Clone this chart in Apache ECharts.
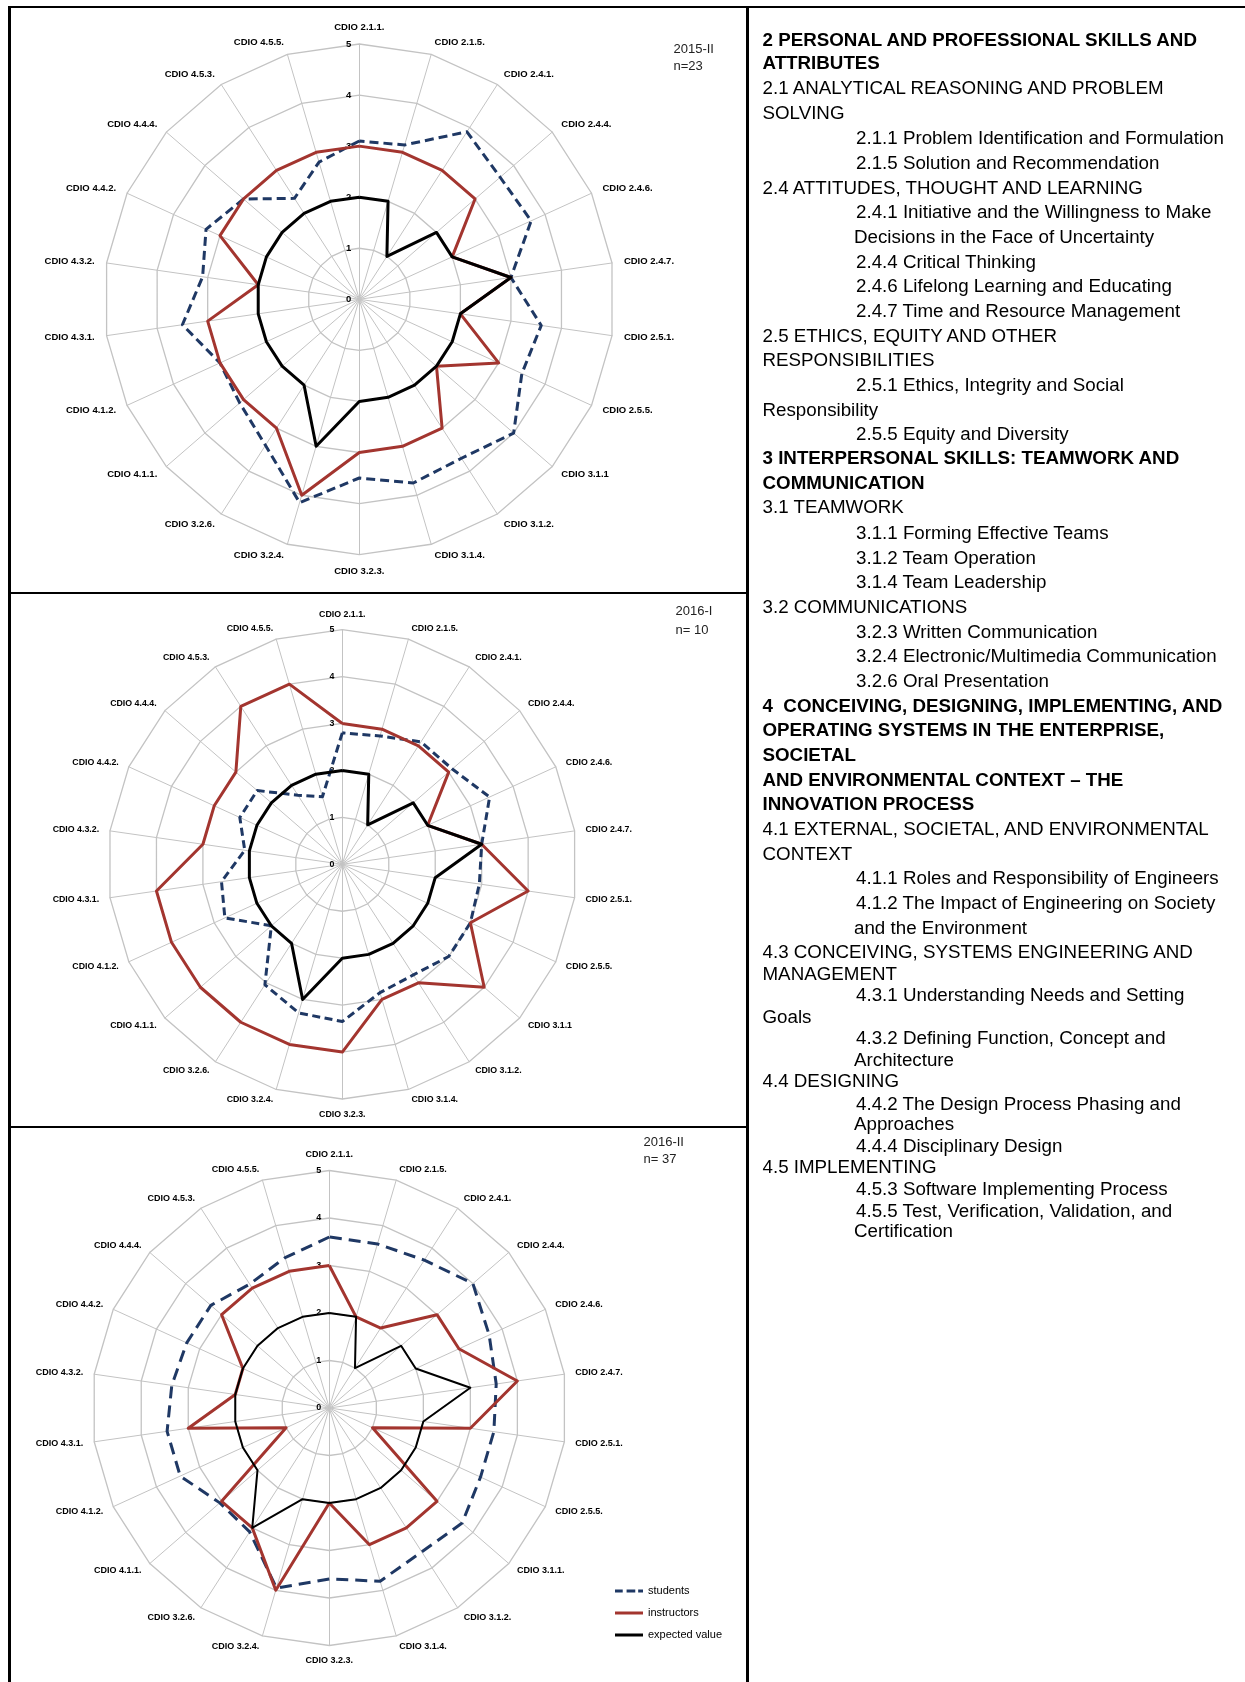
<!DOCTYPE html>
<html>
<head>
<meta charset="utf-8">
<title>CDIO skills radar</title>
<script src="https://cdn.jsdelivr.net/npm/echarts@6/dist/echarts.min.js"></script>
<style>
  html, body { margin: 0; padding: 0; background: #fff; }
  #page { position: relative; width: 1245px; height: 1682px; overflow: hidden; }
  #chart { position: absolute; left: 0; top: 0; width: 746px; height: 1682px; }
  .rule { position: absolute; background: #000; }
  #key { position: absolute; left: 0; top: 0; width: 1245px; height: 1682px;
         font-family: 'Liberation Sans', Arial, sans-serif; font-size: 18.75px; color: #000; }
  #key div { position: absolute; white-space: pre; line-height: 22px; height: 22px; }
  #key .b { font-weight: bold; }
</style>
</head>
<body>
<div id="page">
  <div id="chart"></div>
  <div class="rule" style="left:9px;top:6px;width:1236px;height:2px"></div>
  <div class="rule" style="left:8px;top:6px;width:3px;height:1676px"></div>
  <div class="rule" style="left:746px;top:6px;width:3px;height:1676px"></div>
  <div class="rule" style="left:8px;top:592px;width:740px;height:2px"></div>
  <div class="rule" style="left:8px;top:1126px;width:740px;height:2px"></div>
  <div id="key"></div>
</div>
<script>
// Competence items (CDIO syllabus), listed clockwise from the top
const categories = ['CDIO 2.1.1.', 'CDIO 2.1.5.', 'CDIO 2.4.1.', 'CDIO 2.4.4.', 'CDIO 2.4.6.', 'CDIO 2.4.7.',
  'CDIO 2.5.1.', 'CDIO 2.5.5.', 'CDIO 3.1.1', 'CDIO 3.1.2.', 'CDIO 3.1.4.', 'CDIO 3.2.3.', 'CDIO 3.2.4.',
  'CDIO 3.2.6.', 'CDIO 4.1.1.', 'CDIO 4.1.2.', 'CDIO 4.3.1.', 'CDIO 4.3.2.', 'CDIO 4.4.2.', 'CDIO 4.4.4.',
  'CDIO 4.5.3.', 'CDIO 4.5.5.'];
const categories2016II = ['CDIO 2.1.1.', 'CDIO 2.1.5.', 'CDIO 2.4.1.', 'CDIO 2.4.4.', 'CDIO 2.4.6.', 'CDIO 2.4.7.',
  'CDIO 2.5.1.', 'CDIO 2.5.5.', 'CDIO 3.1.1.', 'CDIO 3.1.2.', 'CDIO 3.1.4.', 'CDIO 3.2.3.', 'CDIO 3.2.4.',
  'CDIO 3.2.6.', 'CDIO 4.1.1.', 'CDIO 4.1.2.', 'CDIO 4.3.1.', 'CDIO 4.3.2.', 'CDIO 4.4.2.', 'CDIO 4.4.4.',
  'CDIO 4.5.3.', 'CDIO 4.5.5.'];

// Scale of the rating (0 .. 5)
const scaleTicks = ['0', '1', '2', '3', '4', '5'];
const seriesNames = ['students', 'instructors', 'expected value'];

// 2015-II, n=23
const students2015II    = [3.1, 3.15, 3.9, 3.65, 3.7, 3.0, 3.6, 3.5, 4.0, 3.7, 3.75, 3.5, 4.15, 3.4, 3.1, 3.0, 3.5, 3.1, 3.3, 3.0, 2.35, 2.8];
const instructors2015II = [3, 3, 3, 3, 2, 3, 2, 3, 2, 3, 3, 3, 4, 3, 3, 3, 3, 2, 3, 3, 3, 3];
const expected2015II    = [2, 2, 1, 2, 2, 3, 2, 2, 2, 2, 2, 2, 3, 2, 2, 2, 2, 2, 2, 2, 2, 2];

// 2016-I, n=10
const students2016I     = [2.8, 2.85, 3.1, 3.1, 3.45, 3.0, 2.95, 3.0, 3.0, 2.8, 2.85, 3.35, 3.3, 3.05, 2.0, 2.75, 2.6, 2.1, 2.4, 2.4, 1.75, 1.5];
const instructors2016I  = [3, 3, 3, 3, 2, 3, 4, 3, 4, 3, 3, 4, 4, 4, 4, 4, 4, 3, 3, 3, 4, 4];
const expected2016I     = [2, 2, 1, 2, 2, 3, 2, 2, 2, 2, 2, 2, 3, 2, 2, 2, 2, 2, 2, 2, 2, 2];

// 2016-II, n=37
const students2016II    = [3.6, 3.6, 3.7, 4.0, 3.7, 3.55, 3.5, 3.5, 3.7, 3.6, 3.8, 3.6, 3.95, 3.1, 3.05, 3.45, 3.45, 3.35, 3.3, 3.3, 3.1, 3.3];
const instructors2016II = [3, 2, 2, 3, 3, 4, 3, 1, 3, 3, 3, 2, 4, 3, 3, 1, 3, 2, 2, 3, 3, 3];
const expected2016II    = [2, 2, 1, 2, 2, 3, 2, 2, 2, 2, 2, 2, 2, 3, 2, 2, 2, 2, 2, 2, 2, 2];

// Panel layout and styling
const FONT = "'Liberation Sans', Arial, sans-serif";
const COLORS = { students: '#1f3864', instructors: '#a3352f', expected: '#000000' };
const panels = [
  { cats: categories, values: [students2015II, instructors2015II, expected2015II],
    center: [359.3, 299.3], radius: 255.3, font: 9.5, gap: 12,
    term: '2015-II\nn=23', termPos: [673.5, 40.5], termLH: 17,
    widths: [3, 3, 3], dash: [9, 5] },
  { cats: categories, values: [students2016I, instructors2016I, expected2016I],
    center: [342.3, 864.3], radius: 234.7, font: 8.8, gap: 11,
    term: '2016-I\nn= 10', termPos: [675.5, 602], termLH: 19,
    widths: [3, 3, 3], dash: [8, 4.5] },
  { cats: categories2016II, values: [students2016II, instructors2016II, expected2016II],
    center: [329.3, 1408], radius: 237.5, font: 9, gap: 11,
    term: '2016-II\nn= 37', termPos: [643.5, 1134.5], termLH: 16.7,
    widths: [3, 3, 2], dash: [12, 7] }
];

// ECharts lays radar indicators out counter-clockwise; reverse all but the first
function clockwise(arr) { return [arr[0]].concat(arr.slice(1).reverse()); }

const gridColor = '#c3c3c3';
const option = {
  animation: false,
  textStyle: { fontFamily: FONT },
  title: panels.map(p => ({
    text: p.term, left: p.termPos[0], top: p.termPos[1], padding: 0,
    textStyle: { fontSize: 13, fontWeight: 'normal', color: '#222', lineHeight: p.termLH, fontFamily: FONT }
  })),
  radar: panels.map(p => ({
    center: p.center, radius: p.radius, startAngle: 90, shape: 'polygon', splitNumber: 5,
    indicator: clockwise(p.cats).map(n => ({ name: n, min: 0, max: 5 })),
    nameGap: p.gap,
    axisName: { color: '#000', fontWeight: 'bold', fontSize: p.font, fontFamily: FONT },
    axisLine: { lineStyle: { color: gridColor, width: 1 } },
    splitLine: { lineStyle: { color: gridColor, width: 1.3 } },
    splitArea: { show: false },
    axisTick: { show: false },
    axisLabel: { show: false }
  })),
  // polar systems sharing each radar's centre carry the 0..5 scale labels
  polar: panels.map(p => ({ center: p.center, radius: p.radius })),
  angleAxis: panels.map((p, i) => ({ polarIndex: i, type: 'value', min: 0, max: 360, startAngle: 90, show: false })),
  radiusAxis: panels.map((p, i) => ({
    polarIndex: i, type: 'value', min: 0, max: 5, interval: 1,
    axisLine: { show: false }, axisTick: { show: false }, splitLine: { show: false },
    axisLabel: { color: '#000', fontWeight: 'bold', fontSize: p.font, margin: 8, fontFamily: FONT,
                 formatter: v => scaleTicks[Math.round(v)] }
  })),
  legend: {
    orient: 'vertical', left: 615, top: 1585, padding: 0, itemGap: 10,
    itemWidth: 28, itemHeight: 3,
    textStyle: { fontSize: 11, color: '#000', lineHeight: 12, fontFamily: FONT, padding: [0, 0, 0, 0] },
    data: [
      { name: 'students', icon: 'path://M0,0h8v3h-8zM12,0h9v3h-9zM24,0h5v3h-5z', itemStyle: { color: COLORS.students, borderWidth: 0 } },
      { name: 'instructors', icon: 'rect', itemStyle: { color: COLORS.instructors, borderWidth: 0 } },
      { name: 'expected value', icon: 'rect', itemStyle: { color: COLORS.expected, borderWidth: 0 } }
    ]
  },
  series: panels.map((p, i) => ({
    type: 'radar', radarIndex: i, symbol: 'none', silent: true,
    data: [
      { name: seriesNames[0], value: clockwise(p.values[0]),
        lineStyle: { color: COLORS.students, width: p.widths[0], type: p.dash }, itemStyle: { color: COLORS.students } },
      { name: seriesNames[1], value: clockwise(p.values[1]),
        lineStyle: { color: COLORS.instructors, width: p.widths[1] }, itemStyle: { color: COLORS.instructors } },
      { name: seriesNames[2], value: clockwise(p.values[2]),
        lineStyle: { color: COLORS.expected, width: p.widths[2] }, itemStyle: { color: COLORS.expected } }
    ]
  }))
};

const chart = echarts.init(document.getElementById('chart'), null, { renderer: 'canvas' });
chart.setOption(option);

// Key to the competence codes, right-hand column
const keyLines = [
  ['2 PERSONAL AND PROFESSIONAL SKILLS AND', 762.5, 39.7, 1],
  ['ATTRIBUTES', 762.5, 63.3, 1],
  ['2.1 ANALYTICAL REASONING AND PROBLEM', 762.5, 87.9, 0],
  ['SOLVING', 762.5, 112.6, 0],
  ['2.1.1 Problem Identification and Formulation', 856, 138.3, 0],
  ['2.1.5 Solution and Recommendation', 856, 163.0, 0],
  ['2.4 ATTITUDES, THOUGHT AND LEARNING', 762.5, 187.7, 0],
  ['2.4.1 Initiative and the Willingness to Make', 856, 212.3, 0],
  ['Decisions in the Face of Uncertainty', 854, 237.0, 0],
  ['2.4.4 Critical Thinking', 856, 261.7, 0],
  ['2.4.6 Lifelong Learning and Educating', 856, 286.3, 0],
  ['2.4.7 Time and Resource Management', 856, 311.0, 0],
  ['2.5 ETHICS, EQUITY AND OTHER', 762.5, 335.7, 0],
  ['RESPONSIBILITIES', 762.5, 360.3, 0],
  ['2.5.1 Ethics, Integrity and Social', 856, 385.0, 0],
  ['Responsibility', 762.5, 409.7, 0],
  ['2.5.5 Equity and Diversity', 856, 434.3, 0],
  ['3 INTERPERSONAL SKILLS: TEAMWORK AND', 762.5, 457.9, 1],
  ['COMMUNICATION', 762.5, 482.6, 1],
  ['3.1 TEAMWORK', 762.5, 507.2, 0],
  ['3.1.1 Forming Effective Teams', 856, 533.0, 0],
  ['3.1.2 Team Operation', 856, 557.6, 0],
  ['3.1.4 Team Leadership', 856, 582.3, 0],
  ['3.2 COMMUNICATIONS', 762.5, 607.0, 0],
  ['3.2.3 Written Communication', 856, 631.6, 0],
  ['3.2.4 Electronic/Multimedia Communication', 856, 656.3, 0],
  ['3.2.6 Oral Presentation', 856, 681.0, 0],
  ['4  CONCEIVING, DESIGNING, IMPLEMENTING, AND', 762.5, 705.6, 1],
  ['OPERATING SYSTEMS IN THE ENTERPRISE,', 762.5, 730.3, 1],
  ['SOCIETAL', 762.5, 755.0, 1],
  ['AND ENVIRONMENTAL CONTEXT \u2013 THE', 762.5, 779.6, 1],
  ['INNOVATION PROCESS', 762.5, 804.3, 1],
  ['4.1 EXTERNAL, SOCIETAL, AND ENVIRONMENTAL', 762.5, 829.0, 0],
  ['CONTEXT', 762.5, 853.6, 0],
  ['4.1.1 Roles and Responsibility of Engineers', 856, 878.3, 0],
  ['4.1.2 The Impact of Engineering on Society', 856, 903.0, 0],
  ['and the Environment', 854, 927.6, 0],
  ['4.3 CONCEIVING, SYSTEMS ENGINEERING AND', 762.5, 952.3, 0],
  ['MANAGEMENT', 762.5, 973.7, 0],
  ['4.3.1 Understanding Needs and Setting', 856, 995.2, 0],
  ['Goals', 762.5, 1016.6, 0],
  ['4.3.2 Defining Function, Concept and', 856, 1038.1, 0],
  ['Architecture', 854, 1059.5, 0],
  ['4.4 DESIGNING', 762.5, 1081.0, 0],
  ['4.4.2 The Design Process Phasing and', 856, 1103.5, 0],
  ['Approaches', 854, 1123.9, 0],
  ['4.4.4 Disciplinary Design', 856, 1146.4, 0],
  ['4.5 IMPLEMENTING', 762.5, 1166.8, 0],
  ['4.5.3 Software Implementing Process', 856, 1189.3, 0],
  ['4.5.5 Test, Verification, Validation, and', 856, 1210.7, 0],
  ['Certification', 854, 1231.1, 0]
];
const key = document.getElementById('key');
keyLines.forEach(([text, x, y, bold]) => {
  const d = document.createElement('div');
  d.textContent = text;
  if (bold) d.className = 'b';
  d.style.left = x + 'px';
  d.style.top = (y - 11) + 'px';
  key.appendChild(d);
});
</script>
</body>
</html>
